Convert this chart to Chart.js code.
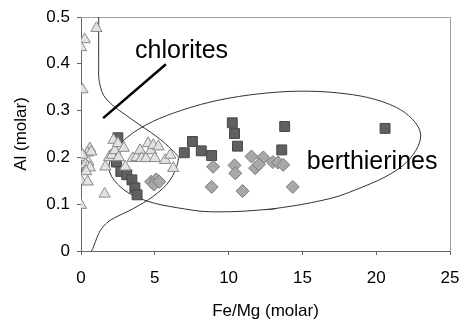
<!DOCTYPE html>
<html>
<head>
<meta charset="utf-8">
<script src="https://cdn.jsdelivr.net/npm/chart.js@4/dist/chart.umd.min.js"></script>
<style>
  html, body { margin: 0; padding: 0; background: #fff; }
  #wrap { width: 460px; height: 322px; }
</style>
</head>
<body>
<div id="wrap"><canvas id="chart" width="460" height="322"></canvas></div>
<script>
// Fe/Mg vs Al (molar)
var triangles = [
    [1.05, 0.476], [0.25, 0.452], [0.0, 0.435], [0.1, 0.345],
    [0.6, 0.219], [0.45, 0.21], [0.7, 0.212], [0.25, 0.2], [0.1, 0.205],
    [0.5, 0.19], [0.3, 0.185], [0.45, 0.18], [0.6, 0.178], [0.35, 0.17],
    [0.0, 0.15], [0.45, 0.148], [1.6, 0.122], [0.0, 0.098],
    [1.65, 0.18], [1.9, 0.2], [2.1, 0.205], [2.2, 0.237], [2.3, 0.215],
    [2.5, 0.23], [2.55, 0.2], [2.9, 0.22], [3.0, 0.18], [3.5, 0.198],
    [3.75, 0.2], [4.0, 0.215], [4.1, 0.198], [4.4, 0.198], [4.55, 0.23],
    [4.75, 0.215], [4.9, 0.226], [5.0, 0.198], [5.25, 0.223], [5.7, 0.194],
    [6.05, 0.205], [6.25, 0.177]
];
var diamonds = [
    [4.75, 0.148], [5.1, 0.153], [4.95, 0.142], [5.3, 0.148],
    [8.95, 0.18], [10.4, 0.183], [10.45, 0.166], [8.85, 0.137], [10.95, 0.128],
    [11.55, 0.202], [12.35, 0.2], [11.8, 0.177], [12.05, 0.185],
    [13.0, 0.19], [13.35, 0.189], [13.7, 0.184], [14.35, 0.137]
];
var squares = [
    [2.5, 0.242], [2.3, 0.205], [2.4, 0.19], [2.7, 0.17], [3.1, 0.163],
    [3.45, 0.152], [3.65, 0.135], [3.8, 0.12],
    [7.0, 0.21], [7.55, 0.234], [8.15, 0.214], [8.85, 0.204],
    [10.25, 0.274], [10.4, 0.251], [10.6, 0.224],
    [13.8, 0.266], [13.6, 0.216], [20.6, 0.262]
];

// outlines
var chloriteCurve = [
    [1.2, 0.5], [1.2, 0.4], [1.25, 0.36], [1.7, 0.325], [3.5, 0.28],
    [5.1, 0.245], [6.2, 0.215], [6.6, 0.197], [6.0, 0.15], [4.9, 0.117],
    [3.5, 0.09], [2.0, 0.066], [1.4, 0.048], [1.1, 0.03], [0.8, 0.005], [0.7, 0]
];
// closed loop; it starts and ends with short steps so the join doesn't show
var berthierineOutline = [
    [13.26, 0.0908], [12.89, 0.0895], [10.14, 0.084], [7.55, 0.0872],
    [3.53, 0.1186], [1.9, 0.175], [3.09, 0.242], [6.8, 0.3006],
    [12.01, 0.3357], [17.35, 0.338], [21.38, 0.3066], [23.01, 0.25],
    [21.82, 0.183], [18.11, 0.1246], [15.61, 0.1033], [12.89, 0.0895],
    [12.52, 0.0882]
];
var pointer = [[1.5, 0.284], [5.75, 0.399]];

var labels = [
    { text: 'chlorites', x: 3.66, y: 0.412 },
    { text: 'berthierines', x: 15.3, y: 0.1746 }
];

var xTicks = [0, 5, 10, 15, 20, 25];
var yTicks = ['0', '0.1', '0.2', '0.3', '0.4', '0.5'];

var FONT = "'Liberation Sans', Arial, sans-serif";

function pts(arr) {
    return arr.map(function(p) { return { x: p[0], y: p[1] }; });
}

function curve(arr, width, color, tension) {
    return {
        data: pts(arr),
        showLine: true,
        pointRadius: 0,
        borderColor: color,
        borderWidth: width,
        tension: tension,
        fill: false
    };
}

// frame on top/right plus free text
var extras = {
    id: 'extras',
    beforeDatasetsDraw: function(chart) {
        var a = chart.chartArea, ctx = chart.ctx;
        ctx.save();
        ctx.strokeStyle = '#a0a0a0';
        ctx.lineWidth = 1;
        ctx.beginPath();
        ctx.moveTo(a.left, a.top + 0.5);
        ctx.lineTo(a.right + 0.5, a.top + 0.5);
        ctx.lineTo(a.right + 0.5, a.bottom);
        ctx.stroke();
        ctx.restore();
    },
    afterDatasetsDraw: function(chart) {
        var ctx = chart.ctx, xs = chart.scales.x, ys = chart.scales.y;
        ctx.save();
        ctx.fillStyle = '#000';
        ctx.font = '25px ' + FONT;
        ctx.textAlign = 'left';
        ctx.textBaseline = 'alphabetic';
        labels.forEach(function(l) {
            ctx.fillText(l.text, xs.getPixelForValue(l.x), ys.getPixelForValue(l.y));
        });
        ctx.restore();
    }
};

var ctx = document.getElementById('chart').getContext('2d');
var chart = new Chart(ctx, {
    type: 'scatter',
    data: {
        datasets: [
            {
                data: pts(triangles),
                pointStyle: 'triangle',
                pointRadius: 6.5,
                backgroundColor: '#e2e2e2',
                borderColor: '#8a8a8a',
                borderWidth: 1,
                order: 1
            },
            {
                data: pts(diamonds),
                pointStyle: 'rectRot',
                pointRadius: 6.5,
                backgroundColor: '#a8a8a8',
                borderColor: '#7a7a7a',
                borderWidth: 1,
                order: 2
            },
            {
                data: pts(squares),
                pointStyle: 'rect',
                pointRadius: 7,
                backgroundColor: '#606060',
                borderColor: '#474747',
                borderWidth: 1,
                order: 3
            },
            Object.assign(curve(chloriteCurve, 1, '#333', 0.35), { order: 4 }),
            Object.assign(curve(berthierineOutline, 1, '#333', 0.35), { order: 5 }),
            Object.assign(curve(pointer, 2.5, '#000', 0), { order: 0 })
        ]
    },
    options: {
        responsive: false,
        animation: false,
        events: [],
        layout: { padding: { top: 17, right: 10, left: 0, bottom: 0 } },
        plugins: {
            legend: { display: false },
            tooltip: { enabled: false }
        },
        scales: {
            x: {
                type: 'linear',
                min: 0,
                max: 25,
                afterBuildTicks: function(scale) {
                    scale.ticks = xTicks.map(function(v) { return { value: v }; });
                },
                afterFit: function(scale) {
                    scale.height = 71;
                    scale.paddingLeft = 0;
                    scale.paddingRight = 0;
                },
                ticks: {
                    color: '#000',
                    font: { family: FONT, size: 17 },
                    padding: 13,
                    maxRotation: 0
                },
                grid: {
                    drawOnChartArea: false,
                    drawTicks: true,
                    tickLength: 4,
                    tickColor: '#666'
                },
                border: { color: '#666', width: 1 },
                title: {
                    display: true,
                    text: 'Fe/Mg (molar)',
                    color: '#000',
                    font: { family: FONT, size: 17 },
                    padding: { top: 0, bottom: 0 }
                }
            },
            y: {
                type: 'linear',
                min: 0,
                max: 0.5,
                afterBuildTicks: function(scale) {
                    scale.ticks = yTicks.map(function(t) { return { value: parseFloat(t) }; });
                },
                afterFit: function(scale) {
                    scale.width = 81;
                    scale.paddingTop = 0;
                    scale.paddingBottom = 0;
                },
                ticks: {
                    color: '#000',
                    font: { family: FONT, size: 17 },
                    padding: 7,
                    callback: function(v, i) { return yTicks[i]; }
                },
                grid: {
                    drawOnChartArea: false,
                    drawTicks: true,
                    tickLength: 4,
                    tickColor: '#666'
                },
                border: { color: '#666', width: 1 },
                title: {
                    display: true,
                    text: 'Al (molar)',
                    color: '#000',
                    font: { family: FONT, size: 17 },
                    padding: { top: 11, bottom: 0 }
                }
            }
        }
    },
    plugins: [extras]
});
</script>
</body>
</html>
